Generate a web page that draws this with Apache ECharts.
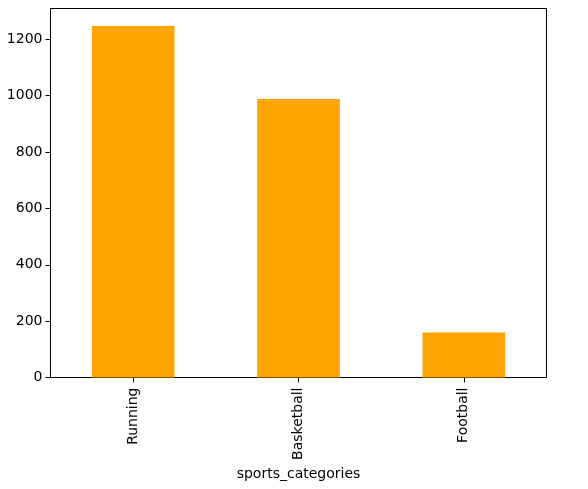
<!DOCTYPE html>
<html>
<head>
<meta charset="utf-8">
<script src="https://cdn.jsdelivr.net/npm/echarts@6/dist/echarts.min.js"></script>
<style>
  html, body { margin: 0; padding: 0; background: #fff; }
  #chart { width: 588px; height: 489px; }
</style>
</head>
<body>
<div id="chart"></div>
<script>
// data
var categories = ['Running', 'Basketball', 'Football'];
var counts = [1247, 988, 160];
var yTicks = [0, 200, 400, 600, 800, 1000, 1200];

var font = 'DejaVu Sans';
var chart = echarts.init(document.getElementById('chart'));

var yMax = Math.max.apply(null, counts) * 1.05;

chart.setOption({
  animation: false,
  backgroundColor: '#fff',
  textStyle: { fontFamily: font },
  grid: {
    left: 50.5, right: 41.5, top: 8.5, bottom: 111.5,
    show: true, borderColor: '#000', borderWidth: 1
  },
  xAxis: {
    type: 'category',
    data: categories,
    name: 'sports_categories',
    nameLocation: 'middle',
    nameGap: 88,
    nameTextStyle: { color: '#000', fontSize: 14, fontFamily: font },
    axisLine: { show: false },
    axisTick: { show: true, alignWithLabel: true, length: 5, lineStyle: { color: '#000' } },
    axisLabel: { rotate: 90, margin: 10, color: '#000', fontSize: 14, fontFamily: font },
    splitLine: { show: false }
  },
  yAxis: {
    type: 'value',
    min: 0,
    max: yMax,
    interval: 200,
    axisLine: { show: false },
    axisTick: { show: true, length: 5, customValues: yTicks, lineStyle: { color: '#000' } },
    axisLabel: {
      margin: 8, color: '#000', fontSize: 14, fontFamily: font, customValues: yTicks,
      formatter: function (v) { return String(v); }
    },
    splitLine: { show: false }
  },
  series: [{
    type: 'bar',
    data: counts,
    barWidth: '50%',
    itemStyle: { color: '#ffa500' }
  }]
});
</script>
</body>
</html>
